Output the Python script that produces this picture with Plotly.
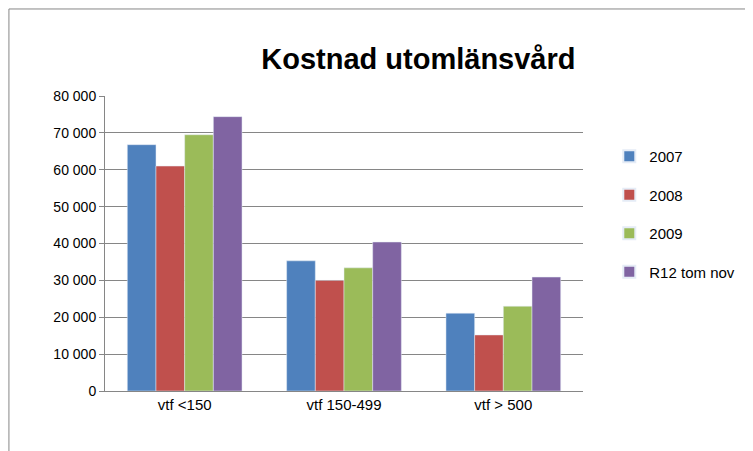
import plotly.graph_objects as go

categories = ["vtf <150", "vtf 150-499", "vtf > 500"]
series_names = ["2007", "2008", "2009", "R12 tom nov"]
v2007 = [66800, 35300, 21100]
v2008 = [61000, 30000, 15200]
v2009 = [69500, 33400, 23000]
vR12 = [74400, 40400, 30900]
colors = ["#4F81BD", "#C0504D", "#9BBB59", "#8064A2"]

fig = go.Figure()
for name, vals, c in zip(series_names, [v2007, v2008, v2009, vR12], colors):
    fig.add_trace(go.Bar(x=categories, y=vals, name=name, marker_color=c, legendgroup=name))

fig.update_layout(
    width=753, height=451,
    separators=", ",
    paper_bgcolor="white", plot_bgcolor="white",
    font=dict(family="Liberation Sans, Arial", size=14, color="black"),
    title=dict(text="<b>Kostnad utomlänsvård</b>", x=0.545, y=0.91, xanchor="center",
               font=dict(size=29)),
    margin=dict(l=97, r=178, t=88, b=68, autoexpand=False),
    bargap=0.28, bargroupgap=0,
    legend=dict(x=1.055, y=0.6, yanchor="middle", font=dict(size=15),
                tracegroupgap=16, itemsizing="constant"),
    yaxis=dict(range=[0, 80000], dtick=10000, tickformat=",d",
               showgrid=True, gridcolor="#868686", gridwidth=1,
               showline=True, linecolor="#868686", ticks="outside", ticklen=5,
               tickcolor="#868686", zeroline=False),
    xaxis=dict(showline=True, linecolor="#868686", ticks="", tickfont=dict(size=15)),
    shapes=[dict(type="rect", xref="paper", yref="paper", x0=-0.201, x1=1.368, y0=-0.224, y1=1.295,
                 line=dict(color="#868686", width=1))],
)
fig.write_html("out.html")
